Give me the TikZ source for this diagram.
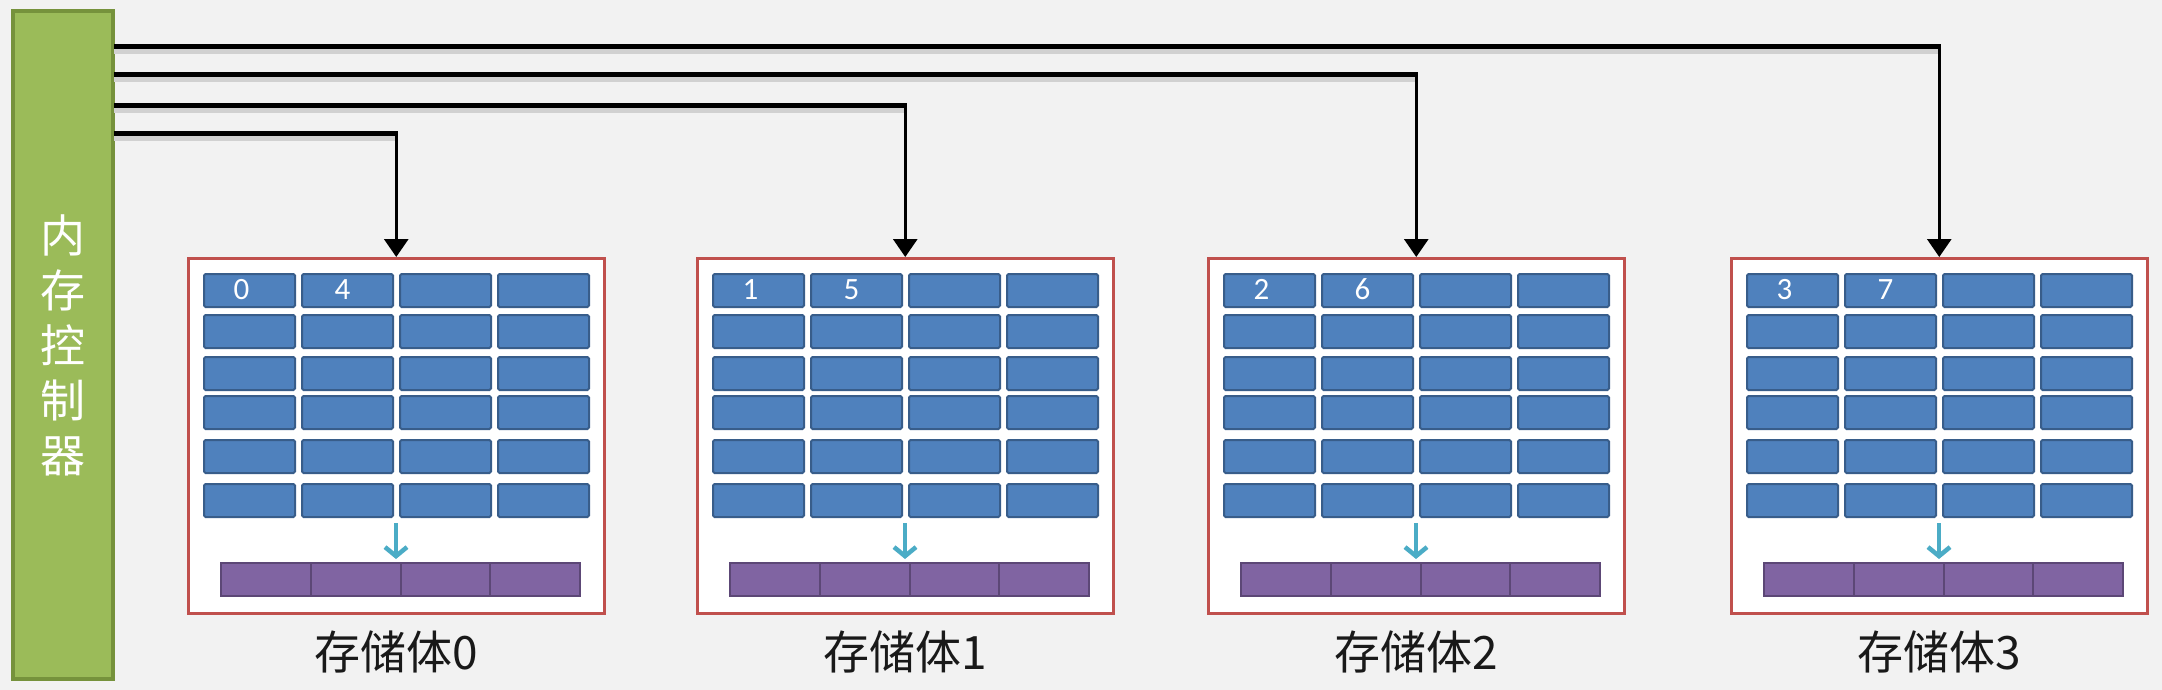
\documentclass[tikz,border=0pt]{standalone}
\usepackage{fontspec}
\newfontfamily\cjk{Noto Sans CJK SC}
\newfontfamily\digitfont{Carlito}
\usetikzlibrary{arrows.meta}
\definecolor{bgc}{HTML}{F2F2F2}
\definecolor{ctrlfill}{HTML}{9BBB59}
\definecolor{ctrldraw}{HTML}{76923C}
\definecolor{cellfill}{HTML}{4F81BD}
\definecolor{celldraw}{HTML}{385D8A}
\definecolor{bankdraw}{HTML}{C0504D}
\definecolor{buffill}{HTML}{8064A2}
\definecolor{bufdraw}{HTML}{5C4776}
\definecolor{cyanc}{HTML}{4BACC6}
\tikzset{
  ctrlbox/.style={draw=ctrldraw, fill=ctrlfill, line width=4pt, rectangle, inner sep=0pt,
    minimum width=100pt, minimum height=668pt, text=white, align=center,
    font=\cjk\fontsize{45}{55}\selectfont},
  bankbox/.style={draw=bankdraw, fill=white, line width=2.5pt, rectangle, inner sep=0pt,
    minimum width=416pt, minimum height=355pt},
  cellbox/.style={draw=celldraw, fill=cellfill, line width=2pt, rectangle, rounded corners=1.5pt,
    inner sep=0pt, minimum width=91pt, minimum height=33pt},
  bufbox/.style={draw=bufdraw, fill=buffill, line width=2pt, rectangle, inner sep=0pt,
    minimum width=89.75pt, minimum height=33pt},
  digit/.style={text=white, inner sep=0pt, font=\digitfont\fontsize{31}{34}\selectfont},
  banklabel/.style={inner sep=0pt, text=black!90, font=\cjk\fontsize{46}{52}\selectfont},
  hline/.style={line width=5pt, black},
  hshadow/.style={line width=5pt, black!18},
  vline/.style={line width=3pt, black, -{Triangle[width=24pt,length=18pt]}},
  cyanarrow/.style={draw=cyanc, line width=4.5pt, -{Straight Barb[length=9pt,width=22pt,line width=4.5pt]}}
}
\begin{document}
\begin{tikzpicture}[x=1pt,y=-1pt]
\fill[bgc] (0,0) rectangle (2162,690);
\useasboundingbox (0,0) rectangle (2162,690);
\node[ctrlbox] (ctrl) at (62.5,345) {内\\存\\控\\制\\器};
\foreach \i/\bx/\sy/\a/\b in {0/187/134/0/4, 1/696/106/1/5, 2/1207/75/2/6, 3/1730/47/3/7}{
  \node[bankbox, anchor=north west] (bank\i) at (\bx,257) {};
  \foreach \r/\ry in {1/17,2/58,3/100,4/139,5/183,6/227}{
    \foreach \c in {0,...,3}{
      \node[cellbox, anchor=north west] (c\i-\r-\c) at ({\bx+16+98*\c},{256+\ry}) {};
    }
  }
  \node[digit] (na\i) at ([xshift=-8pt,yshift=1pt]c\i-1-0.center) {\a};
  \node[digit] (nb\i) at ([xshift=-5pt,yshift=1pt]c\i-1-1.center) {\b};
  \foreach \c in {0,...,3}{
    \node[bufbox, anchor=north west] (buf\i-\c) at ({\bx+33+89.75*\c},562) {};
  }
  \coordinate (as\i) at ({\bx+209},523);
  \coordinate (ae\i) at ({\bx+209},559);
  \draw[cyanarrow] (as\i) -- (ae\i);
  \node[banklabel] (lab\i) at ({\bx+209},652) {存储体\i};
  \coordinate (s\i) at (114,\sy);
  \coordinate (k\i) at (bank\i.north |- s\i);
  \draw[hshadow] ([yshift=-5pt]s\i) -- ([yshift=-5pt]k\i);
  \draw[hline] (s\i) -- ([xshift=1.5pt]k\i);
  \draw[vline] ([yshift=2.5pt]k\i) -- (bank\i.north);
}
\end{tikzpicture}
\end{document}
